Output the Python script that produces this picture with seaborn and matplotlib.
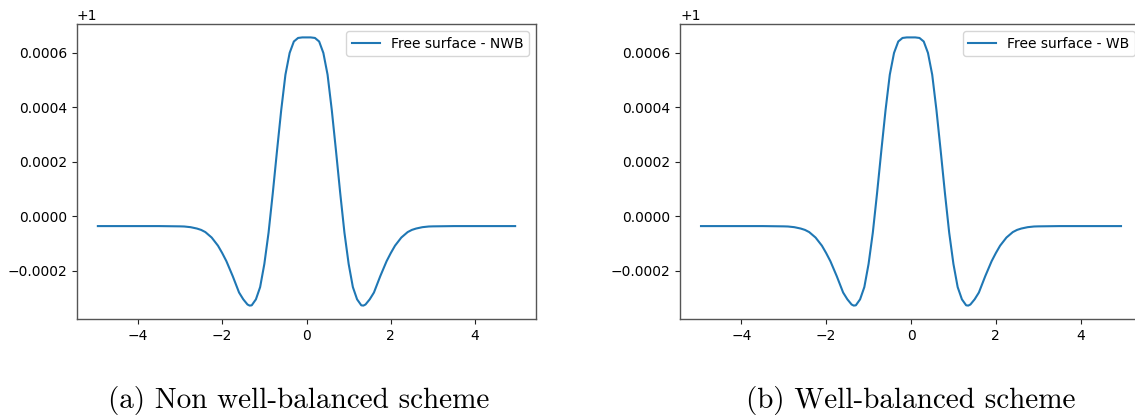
import matplotlib
matplotlib.use("Agg")
import matplotlib.pyplot as plt
import seaborn as sns
import numpy as np
import pandas as pd

# Horizontal coordinate (cell centres)
x_vals = [-4.95, -4.0, -3.5, -3.0, -2.9, -2.75, -2.6, -2.5, -2.4, -2.25, -2.1, -2.0,
          -1.9, -1.75, -1.6, -1.5, -1.4, -1.35, -1.3, -1.2, -1.1, -1.0, -0.9, -0.8,
          -0.7, -0.6, -0.5, -0.4, -0.3, -0.2, -0.1, 0.0, 0.1, 0.2, 0.3, 0.4, 0.5,
          0.6, 0.7, 0.8, 0.9, 1.0, 1.1, 1.2, 1.3, 1.35, 1.4, 1.5, 1.6, 1.75, 1.9,
          2.0, 2.1, 2.25, 2.4, 2.5, 2.6, 2.75, 2.9, 3.0, 3.5, 4.0, 4.95]

# Free surface deviation from 1 (units of 1e-4)
nwb_dev = [-0.36, -0.36, -0.36, -0.37, -0.375, -0.40, -0.45, -0.50, -0.58, -0.78, -1.08, -1.35,
           -1.65, -2.20, -2.80, -3.05, -3.24, -3.28, -3.27, -3.05, -2.60, -1.75, -0.60, 0.85,
           2.40, 3.90, 5.20, 6.00, 6.42, 6.55, 6.57, 6.57, 6.57, 6.55, 6.42, 6.00, 5.20,
           3.90, 2.40, 0.85, -0.60, -1.75, -2.60, -3.05, -3.27, -3.28, -3.24, -3.05, -2.80, -2.20, -1.65,
           -1.35, -1.08, -0.78, -0.58, -0.50, -0.45, -0.40, -0.375, -0.37, -0.36, -0.36, -0.36]

wb_dev = [-0.36, -0.36, -0.36, -0.37, -0.375, -0.40, -0.45, -0.50, -0.58, -0.78, -1.08, -1.35,
          -1.65, -2.20, -2.80, -3.05, -3.24, -3.28, -3.27, -3.05, -2.60, -1.75, -0.60, 0.85,
          2.40, 3.90, 5.20, 6.00, 6.42, 6.55, 6.57, 6.57, 6.57, 6.55, 6.42, 6.00, 5.20,
          3.90, 2.40, 0.85, -0.60, -1.75, -2.60, -3.05, -3.27, -3.28, -3.24, -3.05, -2.80, -2.20, -1.65,
          -1.35, -1.08, -0.78, -0.58, -0.50, -0.45, -0.40, -0.375, -0.37, -0.36, -0.36, -0.36]

base_level = 1.0
series_labels = ["Free surface - NWB", "Free surface - WB"]
captions = ["(a) Non well-balanced scheme", "(b) Well-balanced scheme"]

fig = plt.figure(figsize=(11.35, 4.19), dpi=100)
ax_positions = [[77 / 1135, 100 / 419, 459 / 1135, 295 / 419],
                [680 / 1135, 100 / 419, 462 / 1135, 295 / 419]]
caption_x = [299 / 1135, 911 / 1135]

for i, (pos, dev, lab, cap, cx) in enumerate(zip(ax_positions, [nwb_dev, wb_dev],
                                                 series_labels, captions, caption_x)):
    ax = fig.add_axes(pos)
    df = pd.DataFrame({"x": x_vals, "eta": [base_level + d * 1e-4 for d in dev]})
    sns.lineplot(data=df, x="x", y="eta", ax=ax, color="#1f77b4", linewidth=1.5,
                 label=lab, legend=False)
    ax.set_xlabel("")
    ax.set_ylabel("")
    ax.set_xticks([-4, -2, 0, 2, 4])
    ax.tick_params(labelsize=10, colors="#222222", labelcolor="black")
    for s in ax.spines.values():
        s.set_color("#555555")
        s.set_linewidth(1.0)
    if i == 1:
        # the reference image is cropped just before this panel's right edge
        ax.spines["right"].set_visible(False)
    ax.yaxis.get_offset_text().set_fontsize(10)
    ax.legend(loc="upper right", fontsize=10)
    fig.text(cx, 0.026, cap, ha="center", va="baseline", fontsize=21,
             family=["cmr10", "DejaVu Serif"])

fig.savefig("out.png", dpi=100)
